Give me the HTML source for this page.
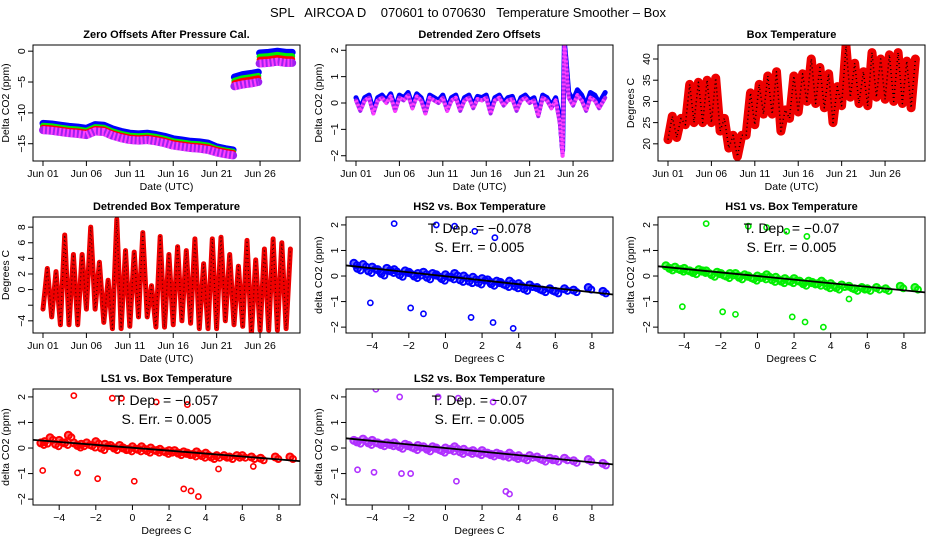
<!DOCTYPE html>
<html><head><meta charset="utf-8">
<style>
html,body{margin:0;padding:0;background:#fff;}
svg{display:block;font-family:"Liberation Sans",Arial,sans-serif;}
</style></head>
<body>
<svg id="chart" width="936" height="540" viewBox="0 0 936 540" xmlns="http://www.w3.org/2000/svg">
<text x="468" y="17" font-size="13" text-anchor="middle" xml:space="preserve">SPL   AIRCOA D    070601 to 070630   Temperature Smoother – Box</text>
</svg>
<script>
// ---------- data ----------
const dayTicks = [0,5,10,15,20,25];
const dayTickLabels = ["Jun 01","Jun 06","Jun 11","Jun 16","Jun 21","Jun 26"];
// Panel 1: zero offsets
const zoTimes = [0,1,2,3,4,5,6,7,8,9,10,11,12,13,14,15,16,17,18,19,20,21,21.9,22.05,23,24,24.8,24.95,26,27,28,28.7];
const zoBlue  = [-11.7,-11.8,-12.0,-12.2,-12.3,-12.5,-11.9,-12.0,-12.6,-13.0,-13.3,-13.4,-13.3,-13.5,-13.8,-14.2,-14.4,-14.6,-14.7,-14.9,-15.5,-15.8,-16.0,-4.2,-3.8,-3.6,-3.4,-0.3,-0.2,0.0,-0.2,-0.2];
const zoGreen = [-12.1,-12.2,-12.4,-12.6,-12.7,-12.9,-12.3,-12.4,-13.0,-13.4,-13.7,-13.8,-13.7,-13.9,-14.2,-14.6,-14.8,-15.0,-15.1,-15.3,-15.8,-16.1,-16.3,-4.8,-4.4,-4.2,-4.0,-0.9,-0.8,-0.6,-0.8,-0.8];
const zoRed   = [-12.4,-12.5,-12.7,-12.9,-13.0,-13.2,-12.6,-12.7,-13.3,-13.7,-14.0,-14.1,-14.0,-14.2,-14.5,-14.9,-15.1,-15.3,-15.4,-15.6,-16.0,-16.3,-16.5,-5.2,-4.8,-4.6,-4.4,-1.4,-1.3,-1.1,-1.3,-1.3];
const zoMag   = [-12.8,-12.9,-13.1,-13.3,-13.4,-13.6,-13.0,-13.1,-13.7,-14.1,-14.4,-14.5,-14.4,-14.6,-14.9,-15.3,-15.5,-15.7,-15.8,-16.0,-16.4,-16.7,-16.9,-5.7,-5.4,-5.2,-5.0,-2.0,-1.9,-1.7,-1.9,-1.9];
// Panel 2: detrended zero offsets
const dzTimes = [0,0.5,1,1.5,2,2.5,3,3.5,4,4.5,5,5.5,6,6.5,7,7.5,8,8.5,9,9.5,10,10.5,11,11.5,12,12.5,13,13.5,14,14.5,15,15.5,16,16.5,17,17.5,18,18.5,19,19.5,20,20.5,21,21.5,22,22.5,23,23.5,23.8,24,24.2,24.5,25,25.5,26,26.5,27,27.5,28,28.7];
const dzMag  = [0.1,-0.3,0.1,0.2,-0.4,0.1,0.2,0.0,0.25,-0.3,0.2,0.1,0.3,-0.2,0.25,0.1,-0.4,0.2,0.1,0.0,0.2,-0.3,0.1,0.2,-0.3,0.1,0.2,-0.2,0.15,0.1,0.2,-0.4,0.1,0.2,-0.1,0.1,0.15,-0.3,0.1,0.2,0.0,0.1,-0.5,0.2,0.1,-0.2,0.1,-0.8,-2.0,2.2,1.5,0.2,-0.1,0.3,0.1,-0.3,0.2,0.1,-0.2,0.2];
const dzBlue = [0.2,-0.2,0.2,0.3,-0.3,0.2,0.3,0.1,0.35,-0.2,0.3,0.2,0.4,-0.1,0.35,0.2,-0.3,0.3,0.2,0.1,0.3,-0.2,0.2,0.3,-0.2,0.2,0.3,-0.1,0.25,0.2,0.3,-0.3,0.2,0.3,0.0,0.2,0.25,-0.2,0.2,0.3,0.1,0.2,-0.4,0.3,0.2,-0.1,0.2,-0.6,-1.8,2.3,1.6,0.4,0.1,0.5,0.3,-0.1,0.4,0.3,0.0,0.4];
// Panel 3: box temperature daily max/min
const btMax = [26.5,26,34,34.5,35,35.5,26,22,22,32,34,36,37,28,36,36.5,40,38,36.5,33.5,43,39,37,41.5,40,41,41.5,39.5,40];
const btMin = [21,21.5,24.5,25,25,25,23,19,17,22,24.5,27,27,23,26,27.5,30,29.5,28.5,25,29,31,29.5,29,31,30.5,30,29.5,28.5];
// Panel 4: detrended box temperature daily max/min
const dtMax = [2.7,2.3,7,4.5,4.5,8,3.5,1.2,9,5,4.8,7.3,0.5,6.8,4.5,5.5,5,6.5,3.3,6.5,6.7,4.5,3,6.3,3.8,5.2,6.5,6,5.2];
const dtMin = [-2.5,-3.5,-4.5,-4.5,-4.5,-2.5,-2.5,-4.2,-5,-5,-4.7,-3.5,-3.5,-4.8,-4.8,-4.5,-4,-4.3,-5,-5,-5,-4,-4.5,-4.7,-5.7,-5.2,-5.2,-5.2,-5];
// Scatter panels
const scTempX = [-5,-4.8,-4.5,-4.2,-4,-3.7,-3.5,-3.2,-3,-2.8,-2.5,-2.2,-2,-1.7,-1.5,-1.2,-1,-0.7,-0.5,-0.2,0,0.3,0.5,0.8,1,1.3,1.5,1.8,2,2.3,2.5,2.8,3,3.3,3.5,3.8,4,4.3,4.6,5,5.3,5.7,6,6.5,7,7.8,8.6];
const hs2Y = [0.5,0.3,0.45,0.2,0.35,0.25,0.1,0.3,0.2,0.25,0.05,0.2,0.15,0.0,0.1,0.15,-0.05,0.1,0.05,-0.1,0.05,-0.05,0.1,-0.15,0.0,-0.2,-0.05,-0.25,-0.1,-0.15,-0.3,-0.2,-0.25,-0.35,-0.2,-0.4,-0.3,-0.5,-0.35,-0.45,-0.55,-0.5,-0.6,-0.5,-0.55,-0.45,-0.6];
const hs1Y = [0.4,0.3,0.35,0.25,0.3,0.2,0.15,0.25,0.2,0.2,0.05,0.15,0.1,0.0,0.1,0.1,-0.05,0.05,0.0,-0.1,0.0,-0.05,0.05,-0.15,-0.05,-0.2,-0.1,-0.2,-0.1,-0.2,-0.3,-0.2,-0.25,-0.3,-0.2,-0.4,-0.3,-0.45,-0.35,-0.4,-0.5,-0.45,-0.5,-0.45,-0.5,-0.4,-0.45];
const ls1Y = [0.2,0.25,0.4,0.15,0.3,0.2,0.5,0.2,0.1,0.15,0.2,0.1,0.25,0.0,0.15,0.1,0.0,0.1,0.0,-0.05,0.05,-0.05,0.05,-0.1,0.0,-0.1,-0.05,-0.15,-0.1,-0.1,-0.2,-0.15,-0.2,-0.25,-0.15,-0.3,-0.2,-0.35,-0.3,-0.3,-0.35,-0.3,-0.3,-0.35,-0.4,-0.35,-0.35];
const ls2Y = [0.3,0.25,0.35,0.2,0.3,0.2,0.15,0.2,0.15,0.2,0.05,0.15,0.1,0.0,0.1,0.05,-0.05,0.05,0.0,-0.1,0.0,-0.05,0.05,-0.15,-0.05,-0.15,-0.1,-0.2,-0.1,-0.2,-0.25,-0.2,-0.25,-0.3,-0.2,-0.35,-0.3,-0.4,-0.3,-0.35,-0.45,-0.4,-0.45,-0.4,-0.5,-0.45,-0.6];
const hs2OutX = [-2.8,-0.5,0.5,1.6,2.7,-4.1,-1.9,-1.2,1.4,2.6,3.7];
const hs2OutY = [2.05,2.0,1.95,1.75,1.5,-1.05,-1.25,-1.48,-1.62,-1.82,-2.05];
const hs1OutX = [-2.8,-0.5,0.5,1.6,2.7,-4.1,-1.9,-1.2,1.9,2.6,3.6,5.0];
const hs1OutY = [2.05,1.95,1.9,1.75,1.55,-1.2,-1.4,-1.5,-1.6,-1.8,-2.0,-0.9];
const ls1OutX = [-3.2,-1.1,-0.6,1.3,3.0,-4.9,-3.0,-1.9,0.1,2.8,3.2,3.6,6.6,4.7];
const ls1OutY = [2.05,1.95,1.95,1.8,1.7,-0.88,-0.97,-1.2,-1.3,-1.6,-1.68,-1.9,-0.72,-0.82];
const ls2OutX = [-3.8,-2.5,-0.4,0.7,2.6,-4.8,-3.9,-2.4,-1.9,0.6,3.3,3.5];
const ls2OutY = [2.3,2.0,2.0,1.95,1.8,-0.85,-0.95,-1.0,-1.0,-1.3,-1.7,-1.8];
const scSlopes = [-0.078,-0.07,-0.057,-0.07];
const scIntercepts = [-0.01,0.0,0.01,0.0];
const scSlopeLabels = ["−0.078","−0.07","−0.057","−0.07"];
const scErrLabels = ["0.005","0.005","0.005","0.005"];
const scXTicks = [-4,-2,0,2,4,6,8];
const scYTicks = [-2,-1,0,1,2];

// ---------- drawing ----------
const NS = "http://www.w3.org/2000/svg";
const svg = document.getElementById('chart');
function el(tag, attrs, parent){
  const e = document.createElementNS(NS, tag);
  for (const k in attrs) e.setAttribute(k, attrs[k]);
  (parent||svg).appendChild(e);
  return e;
}
const cols=[33,346,658], rows=[45,217,389], PW=267, PH=116;
const dayLim=[-1.15,29.6], scXLim=[-5.43,9.15], scYLim=[-2.23,2.31];

function frame(name, x0, y0, xl, yl, title, xlab, ylab, xt, xtl, yt, ytl){
  const g = el('g', {});
  
  
  const sx = v => x0 + (v - xl[0]) / (xl[1]-xl[0]) * PW;
  const sy = v => y0 + PH - (v - yl[0]) / (yl[1]-yl[0]) * PH;
  const t = el('text', {x:x0+PW/2, y:y0-7, 'font-size':11, 'font-weight':'bold', 'text-anchor':'middle'}, g);
  t.textContent = title;
  
  
  const xa = el('text', {x:x0+PW/2, y:y0+PH+29, 'font-size':10.5, 'text-anchor':'middle'}, g);
  xa.textContent = xlab;
  
  
  const ya = el('text', {x:0, y:0, 'font-size':10.5, 'text-anchor':'middle', transform:`translate(${x0-24},${y0+PH/2}) rotate(-90)`}, g);
  ya.textContent = ylab;
  
  
  xt.forEach((v,i)=>{
    const X = sx(v);
    const tk = el('line', {x1:X, x2:X, y1:y0+PH, y2:y0+PH+5, stroke:'#000'}, g);
    
    
    const tl = el('text', {x:X, y:y0+PH+16, 'font-size':10.5, 'text-anchor':'middle'}, g);
    tl.textContent = xtl[i];
    
    
  });
  el('line', {x1:sx(xt[0]), x2:sx(xt[xt.length-1]), y1:y0+PH, y2:y0+PH, stroke:'#000'}, g);
  yt.forEach((v,i)=>{
    const Y = sy(v);
    const tk = el('line', {x1:x0-5, x2:x0, y1:Y, y2:Y, stroke:'#000'}, g);
    
    
    if (ytl[i] !== '') {
      const tl = el('text', {x:0, y:0, 'font-size':10.5, 'text-anchor':'middle', transform:`translate(${x0-8},${Y}) rotate(-90)`}, g);
      tl.textContent = ytl[i];
      
      
    }
  });
  const plot = el('g', {}, g);
  
  
  const clipId = 'c'+name;
  const cp = el('clipPath', {id:clipId}, g);
  el('rect', {x:x0, y:y0, width:PW, height:PH}, cp);
  plot.setAttribute('clip-path', `url(#${clipId})`);
  const box = el('rect', {x:x0, y:y0, width:PW, height:PH, fill:'none', stroke:'#000'}, g);
  
  
  return {sx, sy, plot};
}
function lineSeries(p, xs, ys, color, w, name, dash){
  let d = '';
  for (let i=0;i<xs.length;i++){
    const brk = i===0 || Math.abs(ys[i]-ys[i-1])>2 && name.startsWith('zero');
    d += (brk?'M':'L') + p.sx(xs[i]).toFixed(1) + ',' + p.sy(ys[i]).toFixed(1);
  }
  const pa = el('path', {d, fill:'none', stroke:color, 'stroke-width':w, 'stroke-linejoin':'round', 'stroke-linecap':'round'}, p.plot);
  if (dash) { pa.setAttribute('stroke-dasharray', dash); pa.setAttribute('stroke-linecap','butt'); }
  
  
}
function zigzag(mx, mn){
  const xs=[], ys=[];
  for (let d=0; d<mx.length; d++){
    xs.push(d); ys.push(mn[d]);
    xs.push(d+0.5); ys.push(mx[d]);
  }
  return {xs, ys};
}

const dayTickLab = dayTickLabels;
// Panel 1
const p1 = frame('zero-offsets-panel', cols[0], rows[0], dayLim, [-17.8,1.0], 'Zero Offsets After Pressure Cal.', 'Date (UTC)', 'Delta CO2 (ppm)', dayTicks, dayTickLab, [-15,-10,-5,0], ['−15','−10','−5','0']);
lineSeries(p1, zoTimes, zoBlue, '#0000ff', 7, 'zero-series-blue');
lineSeries(p1, zoTimes, zoGreen, '#00ee00', 6, 'zero-series-green');
lineSeries(p1, zoTimes, zoRed, '#ff0000', 6, 'zero-series-red');
lineSeries(p1, zoTimes, zoMag, '#a020f0', 8, 'zero-series-magenta');
lineSeries(p1, zoTimes, zoMag, '#ff40ff', 8, 'zero-series-magenta-check', '2,2');

// Panel 2
const p2 = frame('detrended-zero-panel', cols[1], rows[0], dayLim, [-2.2,2.2], 'Detrended Zero Offsets', 'Date (UTC)', 'Delta CO2 (ppm)', dayTicks, dayTickLab, [-2,-1,0,1,2], ['−2','−1','0','1','2']);
lineSeries(p2, dzTimes, dzBlue, '#0000ff', 5, 'detrended-series-blue');
lineSeries(p2, dzTimes, dzMag, '#a020f0', 4, 'detrended-series-magenta');
lineSeries(p2, dzTimes, dzMag, '#ff40ff', 4, 'detrended-series-magenta-check', '2,2');

// Panel 3
const p3 = frame('box-temperature-panel', cols[2], rows[0], dayLim, [15.95,43.3], 'Box Temperature', 'Date (UTC)', 'Degrees C', dayTicks, dayTickLab, [20,25,30,35,40], ['20','25','30','35','40']);
const z3 = zigzag(btMax, btMin);
lineSeries(p3, z3.xs, z3.ys, '#ee0000', 9, 'box-temp-series');
lineSeries(p3, z3.xs, z3.ys, '#000000', 1.5, 'box-temp-series-dots', '1,3');

// Panel 4
const p4 = frame('detrended-box-temp-panel', cols[0], rows[1], dayLim, [-5.56,9.3], 'Detrended Box Temperature', 'Date (UTC)', 'Degrees C', dayTicks, dayTickLab, [-4,-2,0,2,4,6,8], ['−4','','0','2','4','6','8']);
const z4 = zigzag(dtMax, dtMin);
lineSeries(p4, z4.xs, z4.ys, '#ee0000', 5, 'detrended-temp-series');
lineSeries(p4, z4.xs, z4.ys, '#400000', 1.2, 'detrended-temp-series-dots', '1,3');

// Scatter panels
const scDefs = [
  {name:'hs2-scatter-panel', col:1, row:1, title:'HS2 vs. Box Temperature', ys:hs2Y, ox:hs2OutX, oy:hs2OutY, color:'#0000ff'},
  {name:'hs1-scatter-panel', col:2, row:1, title:'HS1 vs. Box Temperature', ys:hs1Y, ox:hs1OutX, oy:hs1OutY, color:'#00ee00'},
  {name:'ls1-scatter-panel', col:0, row:2, title:'LS1 vs. Box Temperature', ys:ls1Y, ox:ls1OutX, oy:ls1OutY, color:'#ff0000'},
  {name:'ls2-scatter-panel', col:1, row:2, title:'LS2 vs. Box Temperature', ys:ls2Y, ox:ls2OutX, oy:ls2OutY, color:'#b030ff'}
];
scDefs.forEach((s, k)=>{
  const p = frame(s.name, cols[s.col], rows[s.row], scXLim, scYLim, s.title, 'Degrees C', 'delta CO2 (ppm)', scXTicks, scXTicks.map(v=>v<0?'−'+(-v):String(v)), scYTicks, scYTicks.map(v=>v<0?'−'+(-v):String(v)));
  for (let i=0;i<scTempX.length;i++){
    const c = el('circle', {cx:p.sx(scTempX[i]), cy:p.sy(s.ys[i]), r:3.5, fill:s.color, 'fill-opacity':0.6, stroke:s.color, 'stroke-width':2}, p.plot);
    
    
    const c2 = el('circle', {cx:p.sx(scTempX[i])+3, cy:p.sy(s.ys[i]-0.08), r:3, fill:'none', stroke:s.color, 'stroke-width':2}, p.plot);
    
    
  }
  for (let i=0;i<s.ox.length;i++){
    const c = el('circle', {cx:p.sx(s.ox[i]), cy:p.sy(s.oy[i]), r:2.6, fill:'none', stroke:s.color, 'stroke-width':1.6}, p.plot);
    
    
  }
  const x1 = scXLim[0], x2 = scXLim[1];
  const rl = el('line', {x1:p.sx(x1), x2:p.sx(x2), y1:p.sy(scIntercepts[k]+scSlopes[k]*x1), y2:p.sy(scIntercepts[k]+scSlopes[k]*x2), stroke:'#000', 'stroke-width':1.8}, p.plot);
  
  
  const cx = cols[s.col] + PW/2, ty = rows[s.row];
  const t1 = el('text', {x:cx, y:ty+16, 'font-size':14, 'text-anchor':'middle'}, svg);
  t1.textContent = 'T. Dep. =  ' + scSlopeLabels[k];
  
  
  const t2 = el('text', {x:cx, y:ty+35, 'font-size':14, 'text-anchor':'middle'}, svg);
  t2.textContent = 'S. Err. =  ' + scErrLabels[k];
  
  
});
</script>
</body></html>
